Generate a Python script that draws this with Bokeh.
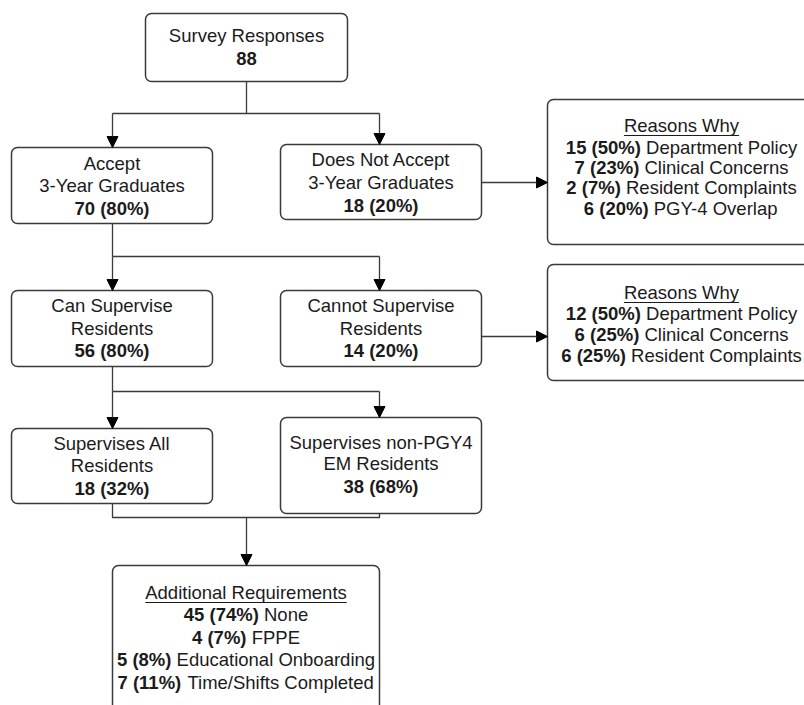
from bokeh.plotting import figure
from bokeh.models import Range1d, Arrow, NormalHead, ColumnDataSource
from bokeh.embed import file_html
from bokeh.resources import INLINE
from bokeh.core.properties import value

# ---------------- data ----------------
survey_title = "Survey Responses"
total_responses = 88
accept_titles = [["Accept", "3-Year Graduates"], ["Does Not Accept", "3-Year Graduates"]]
accept_counts = [70, 18]
accept_pcts = [80, 20]
supervise_titles = [["Can Supervise", "Residents"], ["Cannot Supervise", "Residents"]]
supervise_counts = [56, 14]
supervise_pcts = [80, 20]
scope_titles = [["Supervises All", "Residents"], ["Supervises non-PGY4", "EM Residents"]]
scope_counts = [18, 38]
scope_pcts = [32, 68]
reasons_title = "Reasons Why"
not_accept_reasons = ["Department Policy", "Clinical Concerns", "Resident Complaints", "PGY-4 Overlap"]
not_accept_counts = [15, 7, 2, 6]
not_accept_pcts = [50, 23, 7, 20]
cannot_reasons = ["Department Policy", "Clinical Concerns", "Resident Complaints"]
cannot_counts = [12, 6, 6]
cannot_pcts = [50, 25, 25]
req_title = "Additional Requirements"
req_labels = ["None", "FPPE", "Educational Onboarding", "Time/Shifts Completed"]
req_counts = [45, 4, 5, 7]
req_pcts = [74, 7, 8, 11]

# ---------------- layout (page pixel coordinates) ----------------
BOX = {
    "survey":    (145, 347, 13, 81),
    "accept":    (11, 212, 147, 223),
    "notaccept": (280, 481, 144, 219),
    "reasons1":  (547, 816, 99, 244),
    "can":       (11, 212, 290, 366),
    "cannot":    (280, 481, 290, 366),
    "reasons2":  (547, 816, 264, 380),
    "supall":    (11, 212, 428, 503),
    "supnon":    (280, 481, 417, 513),
    "addreq":    (112, 379, 565, 740),
}
FS = 18.5
FONT = "Liberation Sans"
TXT = "#1b1b1b"
LINE = "#3a3a3a"

REG_W = {' ': 278, '%': 889, '(': 333, ')': 333, '-': 333, '/': 278,
         'A': 667, 'B': 667, 'C': 722, 'D': 722, 'E': 667, 'F': 611, 'G': 778, 'H': 722,
         'I': 278, 'J': 500, 'K': 667, 'L': 556, 'M': 833, 'N': 722, 'O': 778, 'P': 667,
         'Q': 778, 'R': 722, 'S': 667, 'T': 611, 'U': 722, 'V': 667, 'W': 944, 'X': 667,
         'Y': 667, 'Z': 611,
         'a': 556, 'b': 556, 'c': 500, 'd': 556, 'e': 556, 'f': 278, 'g': 556, 'h': 556,
         'i': 222, 'j': 222, 'k': 500, 'l': 222, 'm': 833, 'n': 556, 'o': 556, 'p': 556,
         'q': 556, 'r': 333, 's': 500, 't': 278, 'u': 556, 'v': 500, 'w': 722, 'x': 500,
         'y': 500, 'z': 500}
BOLD_W = {' ': 278, '%': 889, '(': 333, ')': 333}


def tw(s, table):
    return sum(table.get(c, 556) for c in s) * FS / 1000.0


def cx(key):
    b = BOX[key]
    return (b[0] + b[1]) / 2.0


W, H = 804, 705
p = figure(width=W, height=H, x_range=Range1d(0, W), y_range=Range1d(H, 0),
           output_backend="svg", toolbar_location=None, min_border=0)
p.axis.visible = False
p.grid.visible = False
p.outline_line_color = None
p.background_fill_color = "white"
p.border_fill_color = "white"

# boxes
keys = list(BOX.keys())
p.quad(left=[BOX[k][0] for k in keys], right=[BOX[k][1] for k in keys],
       top=[BOX[k][2] for k in keys], bottom=[BOX[k][3] for k in keys],
       fill_color="white", line_color=LINE, line_width=1.5, border_radius=6)

# connectors
xs = [[246, 246], [112, 379],
      [112, 112], [112, 379],
      [112, 112], [112, 379],
      [112, 112, 379, 379]]
ys = [[81, 113], [113, 113],
      [223, 256], [256, 256],
      [366, 391], [391, 391],
      [503, 517, 517, 513]]
p.multi_line(xs=xs, ys=ys, line_color=LINE, line_width=1.3, line_join="round")

arrows = [((112, 113), (112, 147)), ((379, 113), (379, 144)),
          ((112, 256), (112, 290)), ((379, 256), (379, 290)),
          ((481, 182), (547, 182)), ((481, 336), (547, 336)),
          ((112, 391), (112, 428)), ((379, 391), (379, 417)),
          ((246, 517), (246, 565))]
for (x0, y0), (x1, y1) in arrows:
    p.add_layout(Arrow(x_start=x0, y_start=y0, x_end=x1, y_end=y1,
                       line_color=LINE, line_width=1.3,
                       end=NormalHead(size=11, fill_color="black", line_color="black", line_width=1)))

# text collection
reg_c = dict(x=[], y=[], t=[])
bold_c = dict(x=[], y=[], t=[])
reg_l = dict(x=[], y=[], t=[])
bold_l = dict(x=[], y=[], t=[])
ul = dict(x0=[], x1=[], y=[])


def add(d, x, y, t):
    d["x"].append(x); d["y"].append(y); d["t"].append(t)


def mixed(x, y, bold, reg):
    bw = tw(bold + " ", BOLD_W)
    total = bw + tw(reg, REG_W)
    x0 = x - total / 2.0
    add(bold_l, x0, y, bold)
    add(reg_l, x0 + bw, y, reg)


def underlined(x, y, t):
    add(reg_c, x, y, t)
    w = tw(t, REG_W)
    ul["x0"].append(x - w / 2.0); ul["x1"].append(x + w / 2.0); ul["y"].append(y + 10)


# survey
add(reg_c, cx("survey"), 35, survey_title)
add(bold_c, cx("survey"), 58, str(total_responses))

# level boxes
level_rows = [
    (["accept", "notaccept"], accept_titles, accept_counts, accept_pcts, [[163, 185, 208], [159, 182, 205]]),
    (["can", "cannot"], supervise_titles, supervise_counts, supervise_pcts, [[305, 328, 350], [305, 328, 350]]),
    (["supall", "supnon"], scope_titles, scope_counts, scope_pcts, [[443, 465, 488], [442, 463, 486]]),
]
for bkeys, titles, counts, pcts, yrows in level_rows:
    for k, tl, c, pc, yy in zip(bkeys, titles, counts, pcts, yrows):
        add(reg_c, cx(k), yy[0], tl[0])
        add(reg_c, cx(k), yy[1], tl[1])
        add(bold_c, cx(k), yy[2], f"{c} ({pc}%)")

# reasons boxes
rx = 681
underlined(rx, 125, reasons_title)
for i, (lab, c, pc) in enumerate(zip(not_accept_reasons, not_accept_counts, not_accept_pcts)):
    mixed(rx, 147 + i * 20.2, f"{c} ({pc}%)", lab)

underlined(rx, 292, reasons_title)
for i, (lab, c, pc) in enumerate(zip(cannot_reasons, cannot_counts, cannot_pcts)):
    mixed(rx, 313 + i * 21, f"{c} ({pc}%)", lab)

# additional requirements
ax = cx("addreq")
underlined(ax, 592, req_title)
for i, (lab, c, pc) in enumerate(zip(req_labels, req_counts, req_pcts)):
    mixed(ax, 614 + i * 22.7, f"{c} ({pc}%)", lab)

common = dict(text_font=value(FONT), text_font_size=f"{FS}px", text_color=TXT,
              text_baseline="middle")
p.text(x="x", y="y", text="t", source=ColumnDataSource(reg_c), text_align="center", **common)
p.text(x="x", y="y", text="t", source=ColumnDataSource(bold_c), text_align="center",
       text_font_style="bold", **common)
p.text(x="x", y="y", text="t", source=ColumnDataSource(reg_l), text_align="left", **common)
p.text(x="x", y="y", text="t", source=ColumnDataSource(bold_l), text_align="left",
       text_font_style="bold", **common)
p.segment(x0="x0", x1="x1", y0="y", y1="y", source=ColumnDataSource(ul),
          line_color=TXT, line_width=1.2)

open("out.html", "w").write(file_html(p, INLINE))
